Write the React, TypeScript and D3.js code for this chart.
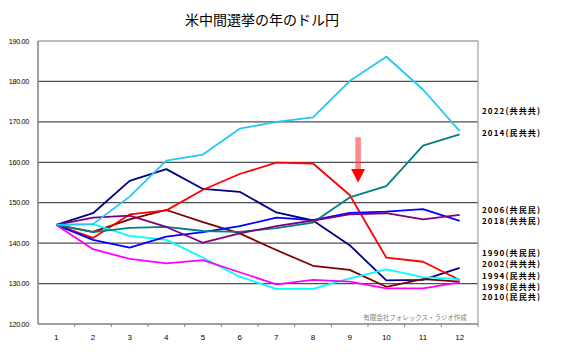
import * as d3 from 'd3'

const TITLE = '米中間選挙の年のドル円'
const NOTE = '有限会社フォレックス・ラジオ作成'

const months = [1, 2, 3, 4, 5, 6, 7, 8, 9, 10, 11, 12]
const yTicks = [120, 130, 140, 150, 160, 170, 180, 190]

// series, indexed to the same starting level
const y1990 = [144.5, 147.4, 155.4, 158.3, 153.4, 152.7, 147.6, 145.6, 139.5, 130.8, 130.9, 133.9]
const y1994 = [144.5, 142.8, 145.9, 148.2, 145.2, 142.4, 138.3, 134.4, 133.4, 129.2, 131.1, 130.5]
const y1998 = [144.5, 141.3, 147.1, 148.1, 153.2, 157.1, 159.9, 159.7, 151.9, 136.4, 135.4, 130.9]
const y2002 = [144.5, 144.7, 141.8, 140.8, 136.4, 131.7, 128.7, 128.7, 131.3, 133.5, 131.6, 131.1]
const y2006 = [144.5, 140.8, 138.9, 141.6, 142.7, 144.2, 146.3, 145.7, 147.5, 147.8, 148.4, 145.5]
const y2010 = [144.5, 138.5, 136.1, 135.0, 135.8, 132.8, 129.8, 130.9, 130.5, 128.8, 128.8, 130.3]
const y2014 = [144.5, 142.7, 143.8, 144.0, 143.0, 142.8, 143.7, 145.1, 151.3, 154.1, 164.1, 166.9]
const y2018 = [144.5, 146.3, 146.8, 144.0, 140.1, 142.4, 144.2, 145.6, 147.1, 147.4, 145.9, 147.0]
const y2022 = [144.5, 144.7, 151.5, 160.4, 161.9, 168.3, 170.0, 171.1, 180.1, 186.1, 178.0, 167.7]

const series = [
  { name: '1990', values: y1990, color: '#000080' },
  { name: '1994', values: y1994, color: '#800000' },
  { name: '1998', values: y1998, color: '#FF0000' },
  { name: '2002', values: y2002, color: '#00FFFF' },
  { name: '2006', values: y2006, color: '#0000FF' },
  { name: '2010', values: y2010, color: '#FF00FF' },
  { name: '2014', values: y2014, color: '#008080' },
  { name: '2018', values: y2018, color: '#800080' },
  { name: '2022', values: y2022, color: '#22C8F5' },
]

const legendLabels = [
  '2022(共共共)', '2014(民共共)', '2006(共民民)', '2018(共共民)',
  '1990(共民民)', '2002(共共共)', '1994(民共共)', '1998(民共共)', '2010(民民共)',
]

const W = 561
const H = 353
const M = { top: 41, right: 83, bottom: 29, left: 38 }
const LEGEND_Y = [111, 133, 210, 221, 253, 264, 276, 287, 297]

export default function App() {
  const x = d3.scaleBand<number>().domain(months).range([M.left, W - M.right])
  const xl = d3.scaleLinear().domain([0.5, 12.5]).range([M.left, W - M.right])
  const y = d3.scaleLinear().domain([120, 190]).range([H - M.bottom, M.top])
  const cx = (m: number) => (x(m) ?? 0) + x.bandwidth() / 2

  const line = d3.line<number>().x((_, i) => cx(months[i])).y(d => y(d))

  const x0 = M.left
  const x1 = W - M.right
  const yb = y(120)

  // arrow near month 9-10
  const ax = xl(9.23)
  const aTop = y(166.2)
  const aTip = y(155)

  return (
    <svg width={W} height={H} style={{ position: 'absolute', left: 0, top: 0, background: '#fff' }}>
      <text x={262} y={25} textAnchor="middle" fontSize={14} fontFamily="'Noto Sans CJK JP'" fill="#000">{TITLE}</text>

      {/* grid */}
      {yTicks.filter(t => t > 120).map(t => (
        <line key={t} x1={x0} x2={x1} y1={y(t)} y2={y(t)} stroke={t === 190 ? '#a8a8a8' : '#505050'} strokeWidth={1.3} />
      ))}
      <line x1={x1} x2={x1} y1={y(190)} y2={yb} stroke="#a8a8a8" strokeWidth={1.3} />
      <line x1={x0} x2={x0} y1={y(190)} y2={yb} stroke="#808080" strokeWidth={1.5} />
      <line x1={x0} x2={x1} y1={yb} y2={yb} stroke="#808080" strokeWidth={1.5} />
      {months.map(m => (
        <line key={m} x1={x(m)! + x.bandwidth()} x2={x(m)! + x.bandwidth()} y1={yb} y2={yb + 3} stroke="#808080" />
      ))}

      {yTicks.map(t => (
        <text key={t} x={29} y={y(t) + 2.5} textAnchor="end" fontSize={7.2} letterSpacing={-0.3} fontFamily="'Liberation Sans', Arial" fill="#000">{t.toFixed(2)}</text>
      ))}
      {months.map(m => (
        <text key={m} x={cx(m)} y={340} textAnchor="middle" fontSize={8} fontFamily="'Liberation Sans', Arial" fill="#000">{m}</text>
      ))}

      {/* lines */}
      {series.map(s => (
        <path key={s.name} d={line(s.values) ?? ''} fill="none" stroke={s.color} strokeWidth={1.8} strokeLinejoin="round" />
      ))}

      {/* arrow */}
      <rect x={ax - 2.8} y={aTop} width={5.6} height={aTip - aTop - 10} fill="#FF4040" opacity={0.6} />
      <path d={`M${ax - 7},${aTip - 13.4}L${ax + 7},${aTip - 13.4}L${ax},${aTip}Z`} fill="#FF0000" />

      <text x={415} y={320} textAnchor="middle" fontSize={6.5} fontFamily="'Noto Sans CJK JP'" fill="#808080">{NOTE}</text>

      {legendLabels.map((l, i) => (
        <text key={l + i} x={482} y={LEGEND_Y[i] + 3} fontSize={8} fontWeight="bold" fontFamily="'Noto Sans CJK JP'" fill="#000" textLength={58} lengthAdjust="spacing">{l}</text>
      ))}
    </svg>
  )
}
